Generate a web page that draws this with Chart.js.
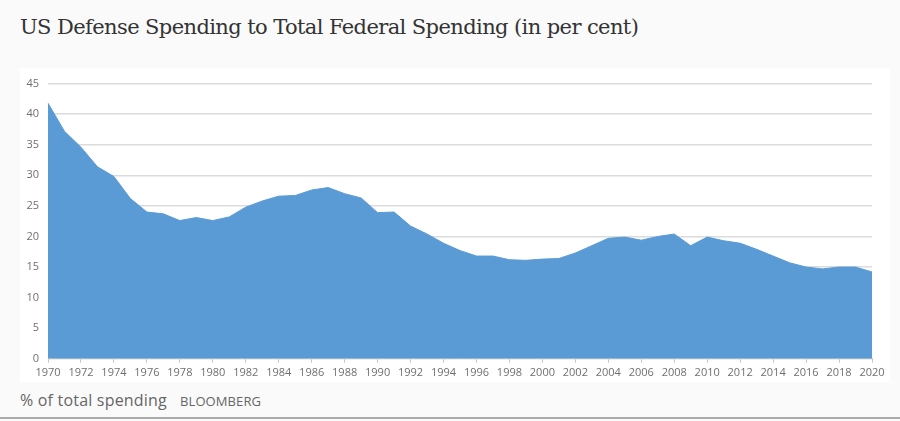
<!DOCTYPE html>
<html>
<head>
<meta charset="utf-8">
<script src="https://cdn.jsdelivr.net/npm/chart.js@4"></script>
<style>
  html, body { margin: 0; padding: 0; }
  body { width: 900px; height: 421px; background: #fafafa; position: relative; overflow: hidden; }
  #title {
    position: absolute; left: 20px; top: 15px;
    font-family: "DejaVu Serif", "Liberation Serif", serif;
    font-size: 21px; color: #333; letter-spacing: -0.6px;
  }
  #panel {
    position: absolute; left: 20px; top: 68px; width: 870px; height: 314px; background: #fff;
  }
  #footer {
    position: absolute; left: 20px; top: 389px;
    font-family: "Open Sans", sans-serif; color: #666;
  }
  #footer .unit { font-size: 16px; letter-spacing: 0.2px; }
  #footer .src { font-size: 13px; margin-left: 13px; letter-spacing: 0.1px; }
  #rule { position: absolute; left: 0; top: 417px; width: 900px; height: 2px; background: #aaa; }
</style>
</head>
<body>
<div id="title">US Defense Spending to Total Federal Spending (in per cent)</div>
<div id="panel"><canvas id="chart" width="870" height="314"></canvas></div>
<div id="footer"><span class="unit">% of total spending</span><span class="src">BLOOMBERG</span></div>
<div id="rule"></div>
<script>
const years = [];
for (let y = 1970; y <= 2020; y++) years.push(String(y));

const defenseShare = [
    41.8, 37.2, 34.6, 31.4, 29.8, 26.2, 24.0, 23.7, 22.6, 23.1,
    22.6, 23.2, 24.8, 25.8, 26.6, 26.7, 27.6, 28.0, 27.0, 26.3,
    23.9, 24.0, 21.7, 20.4, 18.9, 17.7, 16.8, 16.8, 16.2, 16.1,
    16.3, 16.4, 17.3, 18.5, 19.7, 19.9, 19.4, 20.0, 20.4, 18.5,
    19.9, 19.3, 18.9, 17.9, 16.8, 15.7, 15.0, 14.7, 15.0, 15.0,
    14.2
];

const yTicks = [0, 5, 10, 15, 20, 25, 30, 35, 40, 45];

const ctx = document.getElementById('chart');

new Chart(ctx, {
    type: 'line',
    data: {
        labels: years,
        datasets: [{
            label: '% of total spending',
            data: defenseShare,
            fill: 'origin',
            backgroundColor: '#5b9bd5',
            borderColor: '#5b9bd5',
            borderWidth: 1,
            pointRadius: 0,
            tension: 0
        }]
    },
    options: {
        responsive: false,
        animation: false,
        layout: { padding: { left: 0, right: 18, top: 10, bottom: 0 } },
        plugins: { legend: { display: false }, tooltip: { enabled: false } },
        scales: {
            x: {
                offset: false,
                grid: {
                    drawOnChartArea: false,
                    tickLength: 4,
                    color: c => (c.index % 2 === 0 ? '#c8c8c8' : 'rgba(0,0,0,0)')
                },
                border: { color: '#c8c8c8' },
                ticks: {
                    autoSkip: false,
                    maxRotation: 0,
                    padding: 3,
                    color: '#6f6f6f',
                    font: { family: 'Open Sans', size: 11 },
                    callback: (v, i) => (i % 2 === 0 ? years[i] : '')
                }
            },
            y: {
                min: 0,
                max: 45,
                afterBuildTicks: axis => { axis.ticks = yTicks.map(v => ({ value: v })); },
                afterFit: axis => { axis.width = 28; },
                grid: { color: '#dcdcdc', drawTicks: false, lineWidth: 1.5 },
                border: { display: false },
                ticks: {
                    padding: 9,
                    color: '#6f6f6f',
                    font: { family: 'Open Sans', size: 11 }
                }
            }
        }
    }
});
</script>
</body>
</html>
